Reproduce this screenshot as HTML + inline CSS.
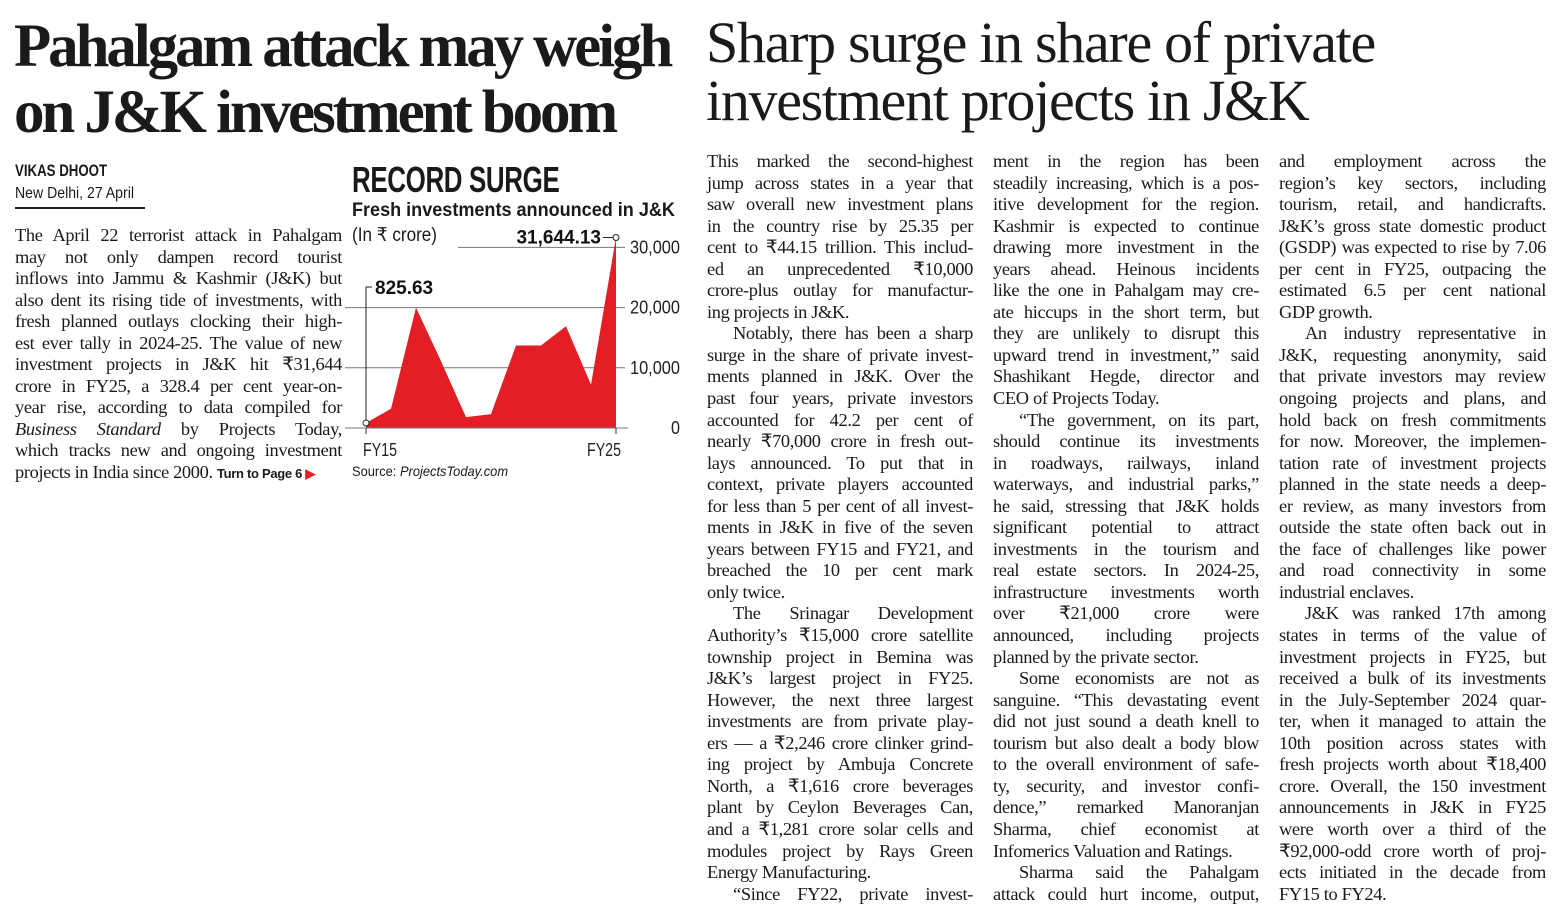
<!DOCTYPE html>
<html><head><meta charset="utf-8">
<style>
*{margin:0;padding:0;box-sizing:border-box}
body{width:1559px;height:917px;background:#fff;position:relative;overflow:hidden;color:#1a1a1a;font-family:"Liberation Serif",serif}
.hl{position:absolute;white-space:nowrap;line-height:1}
.col{position:absolute;font-size:18.4px;line-height:21.55px;letter-spacing:-0.35px}
.col div{white-space:nowrap;text-align:justify;text-align-last:justify;height:21.55px;overflow:visible}
.col div.e{text-align-last:left}
.col div.i{text-indent:26px}
.sans{font-family:"Liberation Sans Narrow","Liberation Sans",sans-serif}
.sq{transform-origin:0 0;white-space:nowrap}
</style></head><body>
<div class="hl" style="left:14px;top:14px;font-size:61px;font-weight:bold;letter-spacing:-3.1px;line-height:66px">Pahalgam attack may weigh<br>on J&amp;K investment boom</div>
<div class="hl" style="left:706px;top:14px;font-size:58px;letter-spacing:-1.3px;line-height:58px">Sharp surge in share of private<br>investment projects in J&amp;K</div>

<div class="sans sq" style="position:absolute;left:15px;top:161px;font-size:17px;font-weight:bold;transform:scaleX(0.78)">VIKAS DHOOT</div>
<div class="sans sq" style="position:absolute;left:15px;top:185px;font-size:16px;transform:scaleX(0.88)">New Delhi, 27 April</div>
<div style="position:absolute;left:15px;top:207px;width:130px;height:1.5px;background:#222"></div>

<div class="col" style="left:15px;top:225px;width:327px;line-height:21.6px">
<div>The April 22 terrorist attack in Pahalgam</div>
<div>may not only dampen record tourist</div>
<div>inflows into Jammu &amp; Kashmir (J&amp;K) but</div>
<div>also dent its rising tide of investments, with</div>
<div>fresh planned outlays clocking their high-</div>
<div>est ever tally in 2024-25. The value of new</div>
<div>investment projects in J&amp;K hit ₹31,644</div>
<div>crore in FY25, a 328.4 per cent year-on-</div>
<div>year rise, according to data compiled for</div>
<div><i>Business Standard</i> by Projects Today,</div>
<div>which tracks new and ongoing investment</div>
<div class="e">projects in India since 2000. <span class="sans" style="font-size:13px;font-weight:bold;letter-spacing:-0.3px">Turn to Page 6 <span style="color:#e31e24">▶</span></span></div>
</div>

<div class="sans sq" style="position:absolute;left:352px;top:162px;font-size:36px;font-weight:bold;letter-spacing:-0.5px;line-height:1;transform:scaleX(0.72)">RECORD SURGE</div>
<div class="sans sq" style="position:absolute;left:352px;top:200px;font-size:19px;font-weight:bold;transform:scaleX(0.95)">Fresh investments announced in J&amp;K</div>
<div class="sans sq" style="position:absolute;left:352px;top:224px;font-size:19px;transform:scaleX(0.9)">(In ₹ crore)</div>
<svg id="chart" style="position:absolute;left:0;top:0" width="1559" height="917"></svg>
<div class="sans sq" style="position:absolute;left:352px;top:463px;font-size:14px;transform:scaleX(0.92)">Source: <i>ProjectsToday.com</i></div>

<div class="col" style="left:707px;top:151px;width:266px">
<div>This marked the second-highest</div>
<div>jump across states in a year that</div>
<div>saw overall new investment plans</div>
<div>in the country rise by 25.35 per</div>
<div>cent to ₹44.15 trillion. This includ-</div>
<div>ed an unprecedented ₹10,000</div>
<div>crore-plus outlay for manufactur-</div>
<div class="e">ing projects in J&amp;K.</div>
<div class="i">Notably, there has been a sharp</div>
<div>surge in the share of private invest-</div>
<div>ments planned in J&amp;K. Over the</div>
<div>past four years, private investors</div>
<div>accounted for 42.2 per cent of</div>
<div>nearly ₹70,000 crore in fresh out-</div>
<div>lays announced. To put that in</div>
<div>context, private players accounted</div>
<div>for less than 5 per cent of all invest-</div>
<div>ments in J&amp;K in five of the seven</div>
<div>years between FY15 and FY21, and</div>
<div>breached the 10 per cent mark</div>
<div class="e">only twice.</div>
<div class="i">The Srinagar Development</div>
<div>Authority’s ₹15,000 crore satellite</div>
<div>township project in Bemina was</div>
<div>J&amp;K’s largest project in FY25.</div>
<div>However, the next three largest</div>
<div>investments are from private play-</div>
<div>ers — a ₹2,246 crore clinker grind-</div>
<div>ing project by Ambuja Concrete</div>
<div>North, a ₹1,616 crore beverages</div>
<div>plant by Ceylon Beverages Can,</div>
<div>and a ₹1,281 crore solar cells and</div>
<div>modules project by Rays Green</div>
<div class="e">Energy Manufacturing.</div>
<div class="i">“Since FY22, private invest-</div>
</div>

<div class="col" style="left:993px;top:151px;width:266px">
<div>ment in the region has been</div>
<div>steadily increasing, which is a pos-</div>
<div>itive development for the region.</div>
<div>Kashmir is expected to continue</div>
<div>drawing more investment in the</div>
<div>years ahead. Heinous incidents</div>
<div>like the one in Pahalgam may cre-</div>
<div>ate hiccups in the short term, but</div>
<div>they are unlikely to disrupt this</div>
<div>upward trend in investment,” said</div>
<div>Shashikant Hegde, director and</div>
<div class="e">CEO of Projects Today.</div>
<div class="i">“The government, on its part,</div>
<div>should continue its investments</div>
<div>in roadways, railways, inland</div>
<div>waterways, and industrial parks,”</div>
<div>he said, stressing that J&amp;K holds</div>
<div>significant potential to attract</div>
<div>investments in the tourism and</div>
<div>real estate sectors. In 2024-25,</div>
<div>infrastructure investments worth</div>
<div>over ₹21,000 crore were</div>
<div>announced, including projects</div>
<div class="e">planned by the private sector.</div>
<div class="i">Some economists are not as</div>
<div>sanguine. “This devastating event</div>
<div>did not just sound a death knell to</div>
<div>tourism but also dealt a body blow</div>
<div>to the overall environment of safe-</div>
<div>ty, security, and investor confi-</div>
<div>dence,” remarked Manoranjan</div>
<div>Sharma, chief economist at</div>
<div class="e">Infomerics Valuation and Ratings.</div>
<div class="i">Sharma said the Pahalgam</div>
<div>attack could hurt income, output,</div>
</div>

<div class="col" style="left:1279px;top:151px;width:267px">
<div>and employment across the</div>
<div>region’s key sectors, including</div>
<div>tourism, retail, and handicrafts.</div>
<div>J&amp;K’s gross state domestic product</div>
<div>(GSDP) was expected to rise by 7.06</div>
<div>per cent in FY25, outpacing the</div>
<div>estimated 6.5 per cent national</div>
<div class="e">GDP growth.</div>
<div class="i">An industry representative in</div>
<div>J&amp;K, requesting anonymity, said</div>
<div>that private investors may review</div>
<div>ongoing projects and plans, and</div>
<div>hold back on fresh commitments</div>
<div>for now. Moreover, the implemen-</div>
<div>tation rate of investment projects</div>
<div>planned in the state needs a deep-</div>
<div>er review, as many investors from</div>
<div>outside the state often back out in</div>
<div>the face of challenges like power</div>
<div>and road connectivity in some</div>
<div class="e">industrial enclaves.</div>
<div class="i">J&amp;K was ranked 17th among</div>
<div>states in terms of the value of</div>
<div>investment projects in FY25, but</div>
<div>received a bulk of its investments</div>
<div>in the July-September 2024 quar-</div>
<div>ter, when it managed to attain the</div>
<div>10th position across states with</div>
<div>fresh projects worth about ₹18,400</div>
<div>crore. Overall, the 150 investment</div>
<div>announcements in J&amp;K in FY25</div>
<div>were worth over a third of the</div>
<div>₹92,000-odd crore worth of proj-</div>
<div>ects initiated in the decade from</div>
<div class="e">FY15 to FY24.</div>
</div>

<script>
const years = ["FY15","FY16","FY17","FY18","FY19","FY20","FY21","FY22","FY23","FY24","FY25"];
const values = [825.63,3200,20000,11100,1800,2300,13700,13700,16900,7200,31644.13];
const yTicks = [0,10000,20000,30000];
const yTickLabels = ["0","10,000","20,000","30,000"];
const xLabels = ["FY15","FY25"];

const NS="http://www.w3.org/2000/svg";
const svg=document.getElementById('chart');
const x0=366,x1=616,yZero=428,pxPer=60.2/10000;
const xs=i=>x0+(x1-x0)*i/(years.length-1);
const ys=v=>yZero-v*pxPer;
function mk(t,a){const e=document.createElementNS(NS,t);for(const k in a)e.setAttribute(k,a[k]);svg.appendChild(e);return e;}
const F='"Liberation Sans Narrow","Liberation Sans",sans-serif';
yTicks.forEach((t,i)=>{
  const g=mk('line',{x1:i===3?458:345,x2:i===0?628:625,y1:ys(t),y2:ys(t),stroke:'#777','stroke-width':1});
  
  
  const tx=mk('text',{x:680,y:ys(t)+6,'text-anchor':'end','font-size':18,'font-family':F,fill:'#222',textLength:yTickLabels[i].length>1?50:9,lengthAdjust:'spacingAndGlyphs'});
  tx.textContent=yTickLabels[i];
  
  
});
let d='M'+xs(0)+','+yZero;
values.forEach((v,i)=>{d+=' L'+xs(i)+','+ys(v);});
d+=' L'+xs(values.length-1)+','+yZero+' Z';
const area=mk('path',{d:d,fill:'#e31e24'});


const b=mk('line',{x1:345,x2:628,y1:yZero,y2:yZero,stroke:'#777','stroke-width':1});


[0,years.length-1].forEach((i,k)=>{
  const t=mk('line',{x1:xs(i),x2:xs(i),y1:yZero,y2:yZero+6,stroke:'#333'});
  
  
  const tx=mk('text',{x:k===0?xs(i)+14:xs(i)-12,y:456,'text-anchor':'middle','font-size':18,'font-family':F,fill:'#222',textLength:34,lengthAdjust:'spacingAndGlyphs'});
  tx.textContent=xLabels[k];
  
  
});
const fx=xs(0),fy=ys(values[0]);
const l1=mk('polyline',{points:fx+','+fy+' '+fx+','+287+' '+(fx+6)+','+287,fill:'none',stroke:'#222','stroke-width':1});


const c1=mk('circle',{cx:fx,cy:fy,r:3,fill:'#fff',stroke:'#222'});


const t1=mk('text',{x:fx+9,y:294,'font-size':19,'font-weight':'bold','font-family':'"Liberation Sans",sans-serif',fill:'#111'});
t1.textContent=values[0].toFixed(2);


const lx=xs(values.length-1),ly=ys(values[values.length-1]);
const l2=mk('line',{x1:lx,x2:603,y1:ly,y2:ly,stroke:'#222'});


const c2=mk('circle',{cx:lx,cy:ly,r:3,fill:'#fff',stroke:'#222'});


const t2=mk('text',{x:601,y:ly+6,'text-anchor':'end','font-size':19,'font-weight':'bold','font-family':'"Liberation Sans",sans-serif',fill:'#111'});
t2.textContent=values[values.length-1].toLocaleString('en-US',{minimumFractionDigits:2});


</script>
</body></html>
